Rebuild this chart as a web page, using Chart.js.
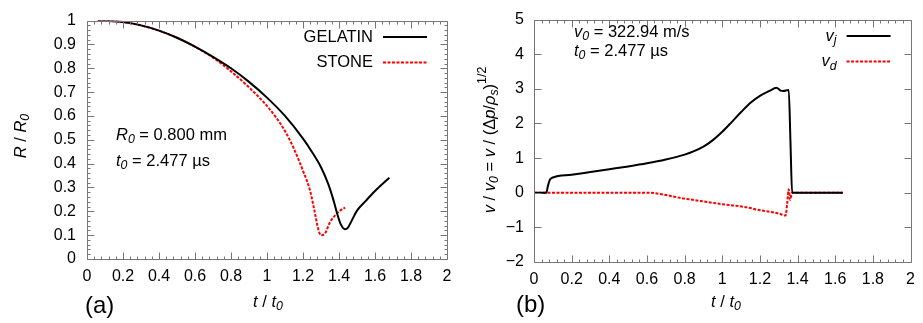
<!DOCTYPE html>
<html>
<head>
<meta charset="utf-8">
<script src="https://cdn.jsdelivr.net/npm/chart.js@4"></script>
<style>
  body { margin: 0; background: #fff; }
  #wrap { position: relative; width: 923px; height: 323px; }
  canvas { position: absolute; top: 0; }
</style>
</head>
<body>
<div id="wrap">
  <canvas id="chartA" width="461" height="323" style="left:0"></canvas>
  <canvas id="chartB" width="462" height="323" style="left:461px"></canvas>
</div>
<script>
const FONT = '"Liberation Sans", Arial, Helvetica, sans-serif';

// tick labels
const xTicks = [0, 0.2, 0.4, 0.6, 0.8, 1, 1.2, 1.4, 1.6, 1.8, 2];
const yTicksA = [0, 0.1, 0.2, 0.3, 0.4, 0.5, 0.6, 0.7, 0.8, 0.9, 1];
const yTicksB = [-2, -1, 0, 1, 2, 3, 4, 5];

// (a) bubble radius R/R0 vs t/t0
const tGelatin = [0.06, 0.1, 0.2, 0.3, 0.4, 0.5, 0.6, 0.7, 0.8, 0.9, 1.0, 1.1, 1.2, 1.25, 1.3, 1.34, 1.37, 1.39, 1.41, 1.434, 1.45, 1.47, 1.5, 1.55, 1.6, 1.68];
const rGelatin = [1.0, 0.999, 0.994, 0.98, 0.958, 0.928, 0.891, 0.848, 0.8, 0.743, 0.677, 0.6, 0.505, 0.449, 0.385, 0.315, 0.245, 0.19, 0.145, 0.125, 0.132, 0.16, 0.203, 0.245, 0.285, 0.341];
const tStone = [0.06, 0.1, 0.2, 0.3, 0.4, 0.5, 0.6, 0.7, 0.8, 0.9, 1.0, 1.05, 1.1, 1.15, 1.2, 1.24, 1.267, 1.286, 1.3, 1.323, 1.351, 1.388, 1.41, 1.434];
const rStone = [1.0, 0.999, 0.994, 0.98, 0.958, 0.928, 0.89, 0.845, 0.787, 0.72, 0.642, 0.594, 0.537, 0.462, 0.37, 0.285, 0.19, 0.122, 0.1, 0.108, 0.156, 0.19, 0.205, 0.215];

// (b) jet and drop velocity v/v0 vs t/t0
const tJet = [0, 0.065, 0.075, 0.085, 0.1, 0.2, 0.3, 0.4, 0.5, 0.6, 0.7, 0.8, 0.85, 0.9, 0.95, 1.0, 1.05, 1.1, 1.15, 1.2, 1.25, 1.288, 1.31, 1.323, 1.353, 1.362, 1.371, 1.4, 1.5, 1.64];
const vJet = [0, 0, 0.22, 0.38, 0.44, 0.52, 0.6, 0.68, 0.76, 0.85, 0.96, 1.1, 1.2, 1.33, 1.52, 1.76, 2.04, 2.33, 2.6, 2.8, 2.94, 3.03, 2.95, 2.94, 2.97, 1.5, 0, 0, 0, 0];
const tDrop = [0, 0.6, 0.8, 1.0, 1.15, 1.17, 1.3, 1.336, 1.345, 1.353, 1.36, 1.371, 1.64];
const vDrop = [0, 0, -0.17, -0.33, -0.44, -0.47, -0.6, -0.66, -0.3, 0.1, -0.2, 0, 0];

const pts = (xs, ys) => xs.map((x, i) => ({ x: x, y: ys[i] }));
const fmt = v => String(v).replace('-', '\u2212');

// text with italic / sub / superscript parts: [text, style], style has i, s (sub), p (sup)
function richText(ctx, parts, x, y, size, align) {
  let w = 0;
  const items = parts.map(([txt, st]) => {
    const small = st.includes('s') || st.includes('p');
    const sz = small ? size * 0.75 : size;
    const font = (st.includes('i') ? 'italic ' : '') + sz + 'px ' + FONT;
    ctx.font = font;
    const width = ctx.measureText(txt).width;
    const dy = st.includes('s') ? size * 0.3 : st.includes('p') ? -size * 0.42 : 0;
    w += width;
    return { txt, font, width, dy };
  });
  let cx = align === 'center' ? x - w / 2 : align === 'right' ? x - w : x;
  ctx.textAlign = 'left';
  ctx.textBaseline = 'middle';
  ctx.fillStyle = '#000';
  items.forEach(it => {
    ctx.font = it.font;
    ctx.fillText(it.txt, cx, y + it.dy);
    cx += it.width;
  });
}

function rotText(ctx, parts, x, y, size) {
  ctx.save();
  ctx.translate(x, y);
  ctx.rotate(-Math.PI / 2);
  richText(ctx, parts, 0, 0, size, 'center');
  ctx.restore();
}

// gnuplot style frame with inward ticks on all four sides
const framePlugin = {
  id: 'frame',
  afterDatasetsDraw(chart, args, opts) {
    const { ctx, chartArea: a, scales: { x, y } } = chart;
    const L = Math.round(a.left) + 0.5, R = Math.round(a.right) + 0.5;
    const T = Math.round(a.top) + 0.5, B = Math.round(a.bottom) + 0.5;
    ctx.save();
    ctx.strokeStyle = '#777';
    ctx.lineWidth = 1;
    ctx.setLineDash([]);
    ctx.beginPath();
    ctx.rect(L, T, R - L, B - T);
    const tickX = (v, len) => {
      const p = Math.round(x.getPixelForValue(v)) + 0.5;
      ctx.moveTo(p, B); ctx.lineTo(p, B - len);
      ctx.moveTo(p, T); ctx.lineTo(p, T + len);
    };
    const tickY = (v, len) => {
      const p = Math.round(y.getPixelForValue(v)) + 0.5;
      ctx.moveTo(L, p); ctx.lineTo(L + len, p);
      ctx.moveTo(R, p); ctx.lineTo(R - len, p);
    };
    const run = (scale, fn, minor) => {
      scale.ticks.forEach((t, i) => {
        fn(t.value, 7);
        if (i < scale.ticks.length - 1 && minor > 1) {
          const step = (scale.ticks[i + 1].value - t.value) / minor;
          for (let k = 1; k < minor; k++) fn(t.value + k * step, 3);
        }
      });
    };
    run(x, tickX, opts.minorX);
    run(y, tickY, opts.minorY);
    ctx.stroke();
    ctx.restore();
  }
};

function legend(chart, labels) {
  const { ctx, chartArea: a } = chart;
  chart.data.datasets.forEach((ds, i) => {
    const yy = a.top + 16.5 + i * 25.5;
    richText(ctx, labels[i], a.right - 74, yy, 16.5, 'right');
    ctx.save();
    ctx.strokeStyle = ds.borderColor;
    ctx.lineWidth = ds.borderWidth;
    ctx.setLineDash(ds.borderDash || []);
    ctx.beginPath();
    ctx.moveTo(a.right - 64, yy);
    ctx.lineTo(a.right - 20, yy);
    ctx.stroke();
    ctx.restore();
  });
}

function axisOpts(ticks, min, max, size, pad) {
  return {
    type: 'linear',
    min: min,
    max: max,
    grid: { display: false, drawTicks: false },
    border: { display: false },
    ticks: { font: { family: FONT, size: 16 }, color: '#000', padding: pad, callback: fmt },
    afterBuildTicks: s => { s.ticks = ticks.map(v => ({ value: v })); },
    afterFit: s => { if (s.isHorizontal()) s.height = size; else s.width = size; }
  };
}

const lineStyle = (color, dash) => ({
  borderColor: color,
  borderWidth: 2,
  borderDash: dash,
  pointRadius: 0,
  showLine: true,
  fill: false,
  cubicInterpolationMode: 'monotone'
});

// panel (a)
new Chart(document.getElementById('chartA'), {
  type: 'scatter',
  data: {
    datasets: [
      Object.assign({ label: 'GELATIN', data: pts(tGelatin, rGelatin) }, lineStyle('#000', [])),
      Object.assign({ label: 'STONE', data: pts(tStone, rStone) }, lineStyle('#f00', [3, 1.5]))
    ]
  },
  options: {
    responsive: false,
    animation: false,
    layout: { padding: { left: 0, right: 14, top: 13, bottom: 0 } },
    plugins: {
      legend: { display: false },
      tooltip: { enabled: false },
      frame: { minorX: 5, minorY: 5 }
    },
    scales: {
      x: axisOpts(xTicks, 0, 2, 64, 8),
      y: axisOpts(yTicksA, 0, 1, 87, 11)
    }
  },
  plugins: [framePlugin, {
    id: 'textA',
    afterDraw(chart) {
      const ctx = chart.ctx;
      legend(chart, [[['GELATIN', '']], [['STONE', '']]]);
      richText(ctx, [['R', 'i'], ['0', 'is'], [' = 0.800 mm', '']], 116, 135, 16.5, 'left');
      richText(ctx, [['t', 'i'], ['0', 'is'], [' = 2.477 \u00b5s', '']], 116, 161, 16.5, 'left');
      rotText(ctx, [['R', 'i'], [' / ', ''], ['R', 'i'], ['0', 'is']], 21, 136, 16.5);
      richText(ctx, [['t', 'i'], [' / ', ''], ['t', 'i'], ['0', 'is']], 268, 302, 16.5, 'center');
      richText(ctx, [['(a)', '']], 85, 306, 24, 'left');
    }
  }]
});

// panel (b)
new Chart(document.getElementById('chartB'), {
  type: 'scatter',
  data: {
    datasets: [
      Object.assign({ label: 'vj', data: pts(tJet, vJet) }, lineStyle('#000', [])),
      Object.assign({ label: 'vd', data: pts(tDrop, vDrop) }, lineStyle('#f00', [3, 1.5]))
    ]
  },
  options: {
    responsive: false,
    animation: false,
    layout: { padding: { left: 0, right: 8, top: 15, bottom: 0 } },
    plugins: {
      legend: { display: false },
      tooltip: { enabled: false },
      frame: { minorX: 5, minorY: 1 }
    },
    scales: {
      x: axisOpts(xTicks, 0, 2, 61, 8),
      y: axisOpts(yTicksB, -2, 5, 73, 10)
    }
  },
  plugins: [framePlugin, {
    id: 'textB',
    afterDraw(chart) {
      const ctx = chart.ctx;
      legend(chart, [[['v', 'i'], ['j', 'is']], [['v', 'i'], ['d', 'is']]]);
      richText(ctx, [['v', 'i'], ['0', 'is'], [' = 322.94 m/s', '']], 113, 32, 16.5, 'left');
      richText(ctx, [['t', 'i'], ['0', 'is'], [' = 2.477 \u00b5s', '']], 113, 51, 16.5, 'left');
      rotText(ctx, [['v', 'i'], [' / ', ''], ['v', 'i'], ['0', 'is'], [' = ', ''], ['v', 'i'], [' / (\u0394', ''], ['p', 'i'], ['/', ''], ['\u03c1', 'i'], ['s', 'is'], [')', ''], ['1/2', 'p']], 29, 140, 16.5);
      richText(ctx, [['t', 'i'], [' / ', ''], ['t', 'i'], ['0', 'is']], 265, 302, 16.5, 'center');
      richText(ctx, [['(b)', '']], 55, 305, 24, 'left');
    }
  }]
});
</script>
</body>
</html>
